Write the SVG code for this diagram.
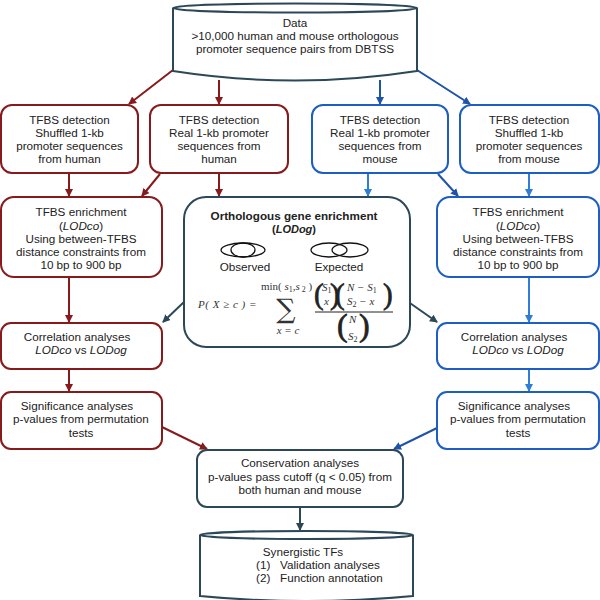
<svg xmlns="http://www.w3.org/2000/svg" width="600" height="600" viewBox="0 0 600 600">
<style>
  .t { font-family: "Liberation Sans", Arial, sans-serif; font-size: 11.7px; fill: #222; text-anchor: middle; }
  .ts { text-anchor: start; }
  .red { fill: #fff; stroke: #861a1c; stroke-width: 2; }
  .blue { fill: #fff; stroke: #1d5ec2; stroke-width: 2; }
  .dark { fill: #fff; stroke: #2c4858; stroke-width: 2; }
  .cR { stroke: #861a1c; stroke-width: 2; fill: none; }
  .cB { stroke: #1f53a8; stroke-width: 2; fill: none; }
  .cL { stroke: #2f7dd6; stroke-width: 2; fill: none; }
  .cD { stroke: #2c4858; stroke-width: 2; fill: none; }
  .m { font-family: "Liberation Serif", "Times New Roman", serif; font-size: 11px; fill: #333; }
  .mi { font-style: italic; }
  .sub { font-size: 8px; font-style: normal; }
  .par { font-family: "Liberation Serif", "Times New Roman", serif; fill: #222; stroke: #222; stroke-width: 0.7; }
  .venn { fill: none; stroke: #111; stroke-width: 1.3; }
</style>
<defs>
  <marker id="aR" markerWidth="8" markerHeight="8" refX="7" refY="4" orient="auto" markerUnits="userSpaceOnUse"><path d="M0,0 L8,4 L0,8 z" fill="#861a1c"/></marker>
  <marker id="aB" markerWidth="8" markerHeight="8" refX="7" refY="4" orient="auto" markerUnits="userSpaceOnUse"><path d="M0,0 L8,4 L0,8 z" fill="#1f53a8"/></marker>
  <marker id="aL" markerWidth="8" markerHeight="8" refX="7" refY="4" orient="auto" markerUnits="userSpaceOnUse"><path d="M0,0 L8,4 L0,8 z" fill="#2f7dd6"/></marker>
  <marker id="aD" markerWidth="8" markerHeight="8" refX="7" refY="4" orient="auto" markerUnits="userSpaceOnUse"><path d="M0,0 L8,4 L0,8 z" fill="#2c4858"/></marker>
</defs>

<g id="connectors">
  <path class="cR" d="M173,70 L129,104" marker-end="url(#aR)"/>
  <path class="cR" d="M219,80 L219,104" marker-end="url(#aR)"/>
  <path class="cR" d="M69,173 L69,196" marker-end="url(#aR)"/>
  <path class="cR" d="M160,174 L142,196" marker-end="url(#aR)"/>
  <path class="cR" d="M219,173 L219,196" marker-end="url(#aR)"/>
  <path class="cR" d="M69,277 L69,322" marker-end="url(#aR)"/>
  <path class="cR" d="M69,369 L69,391" marker-end="url(#aR)"/>
  <path class="cR" d="M162,427 L207,449" marker-end="url(#aR)"/>

  <path class="cB" d="M380,80 L380,104" marker-end="url(#aB)"/>
  <path class="cB" d="M417,70 L470,104" marker-end="url(#aB)"/>
  <path class="cB" d="M438,174 L458,196" marker-end="url(#aB)"/>
  <path class="cL" d="M368,173 L368,196" marker-end="url(#aL)"/>
  <path class="cL" d="M529,173 L529,196" marker-end="url(#aL)"/>
  <path class="cL" d="M529,277 L529,322" marker-end="url(#aL)"/>
  <path class="cL" d="M529,369 L529,391" marker-end="url(#aL)"/>
  <path class="cB" d="M437,428 L394,449" marker-end="url(#aB)"/>

  <path class="cD" d="M184,302 L163,322" marker-end="url(#aD)"/>
  <path class="cD" d="M407,301 L437,322" marker-end="url(#aD)"/>
  <path class="cD" d="M300,507 L300,530" marker-end="url(#aD)"/>
</g>

<g id="data">
  <path class="dark" d="M173,8 L173,71 Q295,90 417,71 L417,8"/>
  <ellipse class="dark" cx="295" cy="8" rx="122" ry="4.5"/>
  <text class="t" x="295" y="27">Data</text>
  <text class="t" x="295" y="40">&gt;10,000 human and mouse orthologous</text>
  <text class="t" x="295" y="53">promoter sequence pairs from DBTSS</text>
</g>

<g id="det-human-shuffled">
  <rect class="red" x="1" y="105" width="137" height="68" rx="11"/>
  <text class="t" x="69.5" y="124">TFBS detection</text>
  <text class="t" x="69.5" y="137">Shuffled 1-kb</text>
  <text class="t" x="69.5" y="150">promoter sequences</text>
  <text class="t" x="69.5" y="163">from human</text>
</g>
<g id="det-human-real">
  <rect class="red" x="150" y="105" width="138" height="68" rx="11"/>
  <text class="t" x="219" y="124">TFBS detection</text>
  <text class="t" x="219" y="137">Real 1-kb promoter</text>
  <text class="t" x="219" y="150">sequences from</text>
  <text class="t" x="219" y="163">human</text>
</g>
<g id="det-mouse-real">
  <rect class="blue" x="312" y="105" width="136" height="68" rx="11"/>
  <text class="t" x="380" y="124">TFBS detection</text>
  <text class="t" x="380" y="137">Real 1-kb promoter</text>
  <text class="t" x="380" y="150">sequences from</text>
  <text class="t" x="380" y="163">mouse</text>
</g>
<g id="det-mouse-shuffled">
  <rect class="blue" x="460" y="105" width="139" height="68" rx="11"/>
  <text class="t" x="529" y="124">TFBS detection</text>
  <text class="t" x="529" y="137">Shuffled 1-kb</text>
  <text class="t" x="529" y="150">promoter sequences</text>
  <text class="t" x="529" y="163">from mouse</text>
</g>

<g id="enrich-human">
  <rect class="red" x="1" y="197" width="161" height="80" rx="13"/>
  <text class="t" x="81" y="216">TFBS enrichment</text>
  <text class="t" x="81" y="230">(<tspan font-style="italic">LODco</tspan>)</text>
  <text class="t" x="81" y="243">Using between-TFBS</text>
  <text class="t" x="81" y="256">distance constraints from</text>
  <text class="t" x="81" y="269">10 bp to 900 bp</text>
</g>
<g id="enrich-mouse">
  <rect class="blue" x="437" y="197" width="162" height="80" rx="13"/>
  <text class="t" x="518" y="216">TFBS enrichment</text>
  <text class="t" x="518" y="230">(<tspan font-style="italic">LODco</tspan>)</text>
  <text class="t" x="518" y="243">Using between-TFBS</text>
  <text class="t" x="518" y="256">distance constraints from</text>
  <text class="t" x="518" y="269">10 bp to 900 bp</text>
</g>

<g id="ortho">
  <rect class="dark" x="184" y="197" width="226" height="150" rx="22"/>
  <text class="t" x="294" y="220" font-weight="bold">Orthologous gene enrichment</text>
  <text class="t" x="294" y="233" font-weight="bold" style="font-size:11px">(<tspan font-style="italic">LODog</tspan>)</text>
  <ellipse class="venn" cx="243" cy="250" rx="22" ry="7"/>
  <ellipse class="venn" cx="243" cy="250" rx="12" ry="7"/>
  <ellipse class="venn" cx="329" cy="250" rx="18" ry="7"/>
  <ellipse class="venn" cx="350" cy="250" rx="18" ry="7"/>
  <text class="t" x="245" y="271">Observed</text>
  <text class="t" x="339" y="271">Expected</text>
  <text class="m mi" x="198" y="308" letter-spacing="0.5">P( X  ≥ c ) =</text>
  <text class="m" x="261" y="290" font-size="10">min( <tspan class="mi">s</tspan><tspan class="sub" dy="2">1</tspan><tspan dy="-2">,</tspan><tspan class="mi">s</tspan><tspan class="sub" dy="2"> 2</tspan><tspan dy="-2"> )</tspan></text>
  <text x="286" y="318" font-family="DejaVu Serif, serif" font-size="27" fill="#333" text-anchor="middle">∑</text>
  <text class="m mi" x="288" y="334" font-size="9.5" text-anchor="middle">x = c</text>
  <text class="par" x="314" y="304" font-size="29">(</text>
  <text class="m mi" x="322" y="291">S<tspan class="sub" dy="2">1</tspan></text>
  <text class="m mi" x="324" y="305">x</text>
  <text class="par" x="330" y="304" font-size="29">)</text>
  <text class="par" x="335" y="304" font-size="29">(</text>
  <text class="m mi" x="347" y="291">N − S<tspan class="sub" dy="2">1</tspan></text>
  <text class="m mi" x="347" y="305">S<tspan class="sub" dy="2">2</tspan><tspan dy="-2"> − x</tspan></text>
  <text class="par" x="383" y="304" font-size="29">)</text>
  <line x1="315" y1="312" x2="393" y2="312" stroke="#222" stroke-width="1"/>
  <text class="par" x="337" y="336" font-size="32">(</text>
  <text class="m mi" x="349" y="323">N</text>
  <text class="m mi" x="348" y="340">S<tspan class="sub" dy="2">2</tspan></text>
  <text class="par" x="359" y="336" font-size="32">)</text>
</g>

<g id="corr-human">
  <rect class="red" x="1" y="323" width="161" height="46" rx="10"/>
  <text class="t" x="77" y="341">Correlation analyses</text>
  <text class="t" x="81" y="354"><tspan font-style="italic">LODco</tspan> vs <tspan font-style="italic">LODog</tspan></text>
</g>
<g id="corr-mouse">
  <rect class="blue" x="437" y="323" width="162" height="46" rx="10"/>
  <text class="t" x="514" y="341">Correlation analyses</text>
  <text class="t" x="518" y="354"><tspan font-style="italic">LODco</tspan> vs <tspan font-style="italic">LODog</tspan></text>
</g>

<g id="sig-human">
  <rect class="red" x="1" y="392" width="161" height="57" rx="10"/>
  <text class="t" x="77" y="410">Significance analyses</text>
  <text class="t" x="81" y="423">p-values from permutation</text>
  <text class="t" x="81" y="437">tests</text>
</g>
<g id="sig-mouse">
  <rect class="blue" x="437" y="392" width="162" height="57" rx="10"/>
  <text class="t" x="514" y="410">Significance analyses</text>
  <text class="t" x="518" y="423">p-values from permutation</text>
  <text class="t" x="518" y="437">tests</text>
</g>

<g id="conservation">
  <rect class="dark" x="197" y="450" width="206" height="57" rx="10"/>
  <text class="t" x="300" y="467">Conservation analyses</text>
  <text class="t" x="300" y="481">p-values pass cutoff (q &lt; 0.05) from</text>
  <text class="t" x="300" y="494">both human and mouse</text>
</g>

<g id="synergistic">
  <path class="dark" d="M200,535 L200,596 Q306,606 413,596 L413,535"/>
  <ellipse class="dark" cx="306.5" cy="535" rx="106.5" ry="4"/>
  <text class="t" x="303" y="556">Synergistic TFs</text>
  <text class="t ts" x="256" y="569" xml:space="preserve">(1)   Validation analyses</text>
  <text class="t ts" x="256" y="582" xml:space="preserve">(2)   Function annotation</text>
</g>
</svg>
